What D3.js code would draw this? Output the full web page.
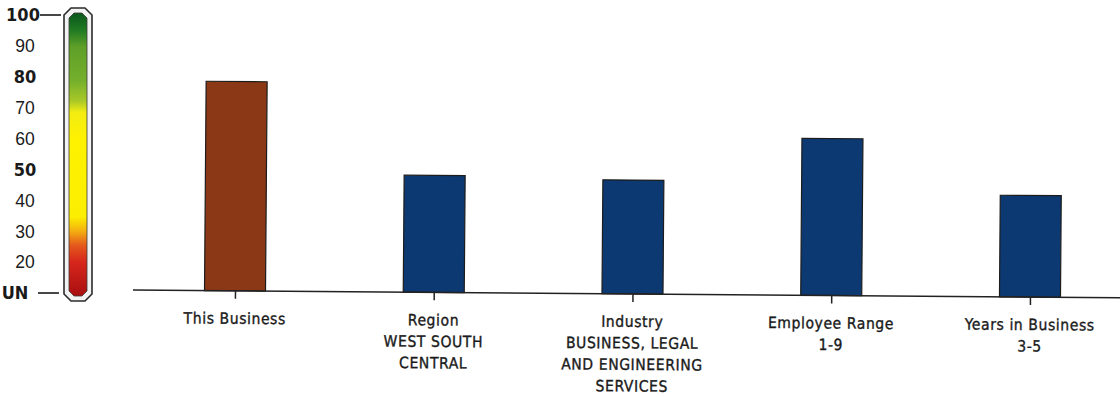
<!DOCTYPE html>
<html>
<head>
<meta charset="utf-8">
<script src="https://cdn.jsdelivr.net/npm/d3@7/dist/d3.min.js"></script>
<style>
  html, body { margin: 0; padding: 0; background: #fff; }
  svg { display: block; }
</style>
</head>
<body>
<svg id="chart" width="1120" height="397"></svg>
<script>
// Score comparison data
const categories = ["This Business", "Region", "Industry", "Employee Range", "Years in Business"];
const subLabels = [
  [],
  ["WEST SOUTH", "CENTRAL"],
  ["BUSINESS, LEGAL", "AND ENGINEERING", "SERVICES"],
  ["1-9"],
  ["3-5"]
];
const scores = [78, 48, 47, 61, 43];
const barColors = ["#8a3816", "#0d3972", "#0d3972", "#0d3972", "#0d3972"];

// Gauge tick labels (UN sits at the bottom of the scale)
const gaugeTicks = [100, 90, 80, 70, 60, 50, 40, 30, 20, 10];
const gaugeTickText = ["100", "90", "80", "70", "60", "50", "40", "30", "20", "UN"];
const boldTicks = ["100", "80", "50", "UN"];

const svg = d3.select("#chart");

// ---------- Gauge on the left ----------
const yGauge = d3.scaleLinear().domain([10, 100]).range([293, 15]);

const defs = svg.append("defs");
const grad = defs.append("linearGradient")
  .attr("id", "gaugeFill").attr("x1", 0).attr("y1", 0).attr("x2", 0).attr("y2", 1);
[
  [0.00, "#0a561c"], [0.06, "#1f7a22"], [0.12, "#5f9f28"], [0.24, "#75b02c"],
  [0.31, "#a8c828"], [0.35, "#f2ec12"], [0.45, "#fff200"], [0.72, "#fcee00"],
  [0.77, "#f3b010"], [0.82, "#e55a1c"], [0.88, "#d7261c"], [1.00, "#a80f10"]
].forEach(([o, c]) => grad.append("stop").attr("offset", o).attr("stop-color", c));

function chamfer(x0, y0, x1, y1, c) {
  return `M${x0 + c},${y0} L${x1 - c},${y0} L${x1},${y0 + c} L${x1},${y1 - c} ` +
         `L${x1 - c},${y1} L${x0 + c},${y1} L${x0},${y1 - c} L${x0},${y0 + c} Z`;
}

const gauge = svg.append("g");
gauge.append("path")
  .attr("d", chamfer(64, 8, 92, 301, 7))
  .attr("fill", "#f2f2f2").attr("stroke", "#2b2b2b").attr("stroke-width", 1.6);
gauge.append("path")
  .attr("d", chamfer(69, 13, 87, 296, 5))
  .attr("fill", "url(#gaugeFill)").attr("stroke", "#3a3a3a").attr("stroke-width", 0.8);

// Gauge labels
gauge.selectAll("text.tick")
  .data(gaugeTicks)
  .join("text")
  .attr("class", "tick")
  .attr("x", (d, i) => gaugeTickText[i] === "UN" ? 15 : (gaugeTickText[i] === "100" ? 23 : 25))
  .attr("y", d => yGauge(d))
  .attr("dy", "0.36em")
  .attr("text-anchor", "middle")
  .attr("font-family", (d, i) => boldTicks.includes(gaugeTickText[i])
      ? "'Liberation Sans Narrow', 'DejaVu Sans Condensed', sans-serif"
      : "'Liberation Sans', Arial, sans-serif")
  .attr("font-weight", (d, i) => boldTicks.includes(gaugeTickText[i]) ? 900 : 400)
  .attr("font-size", (d, i) => boldTicks.includes(gaugeTickText[i]) ? 18 : 17.5)
  .attr("fill", "#1a1a1a")
  .text((d, i) => gaugeTickText[i]);

// Dashes connecting the end labels to the gauge
gauge.append("line").attr("x1", 40).attr("x2", 61)
  .attr("y1", yGauge(100)).attr("y2", yGauge(100))
  .attr("stroke", "#1a1a1a").attr("stroke-width", 1.6);
gauge.append("line").attr("x1", 38).attr("x2", 59)
  .attr("y1", yGauge(10)).attr("y2", yGauge(10))
  .attr("stroke", "#1a1a1a").attr("stroke-width", 1.6);

// ---------- Bar plot ----------
const baseY = 290;
const plot = svg.append("g")
  .attr("transform", `rotate(0.45, 133, ${baseY})`);

const x = d3.scalePoint().domain(categories).range([235, 1030]);
const y = d3.scaleLinear().domain([10, 100]).range([baseY, baseY - 90 * 3.078]);
const barW = 61;

plot.selectAll("rect.bar")
  .data(categories)
  .join("rect")
  .attr("class", "bar")
  .attr("x", d => x(d) - barW / 2)
  .attr("y", (d, i) => y(scores[i]))
  .attr("width", barW)
  .attr("height", (d, i) => y(10) - y(scores[i]))
  .attr("fill", (d, i) => barColors[i])
  .attr("stroke", "#1c1c1c")
  .attr("stroke-width", 1.2);

// Category axis
const xAxis = d3.axisBottom(x).tickSize(8).tickSizeOuter(0).tickFormat("");
const axisG = plot.append("g")
  .attr("transform", `translate(0,${baseY})`)
  .call(xAxis);
axisG.select(".domain").remove();
axisG.selectAll(".tick line").attr("stroke", "#222").attr("stroke-width", 1.5);
axisG.append("line")
  .attr("x1", 133).attr("x2", 1125).attr("y1", 0).attr("y2", 0)
  .attr("stroke", "#222").attr("stroke-width", 1.5);

// Multi-line category labels
const labelG = plot.selectAll("text.cat")
  .data(categories)
  .join("text")
  .attr("class", "cat")
  .attr("x", d => x(d))
  .attr("y", baseY + 33)
  .attr("text-anchor", "middle")
  .attr("font-family", "'DejaVu Sans Condensed', 'DejaVu Sans', sans-serif")
  .attr("font-size", 15.5)
  .attr("letter-spacing", 0.6)
  .attr("fill", "#1a1a1a")
  .attr("stroke", "#1a1a1a")
  .attr("stroke-width", 0.35);

labelG.each(function (d, i) {
  const t = d3.select(this);
  [d, ...subLabels[i]].forEach((line, k) => {
    t.append("tspan").attr("x", x(d)).attr("dy", k === 0 ? 0 : 21.5).text(line);
  });
});
</script>
</body>
</html>
